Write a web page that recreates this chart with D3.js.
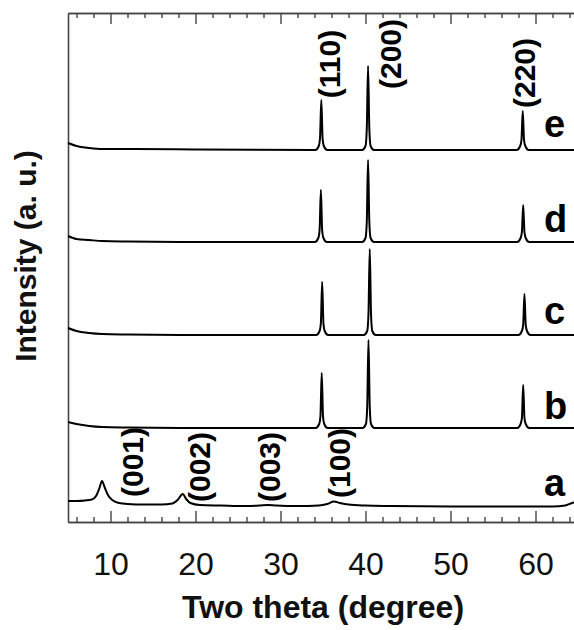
<!DOCTYPE html>
<html>
<head>
<meta charset="utf-8">
<script src="https://cdn.jsdelivr.net/npm/d3@7"></script>
<style>
  body { margin: 0; background: #fff; }
  svg { display: block; font-family: Arial, "Liberation Sans", sans-serif; }
</style>
</head>
<body>
<svg></svg>
<script>
// XRD patterns, [2theta, intensity (a.u., offset already applied)]
var seriesA = [[5,21],[6,21],[7,21.5],[7.8,22.5],[8.3,26],[8.7,34],[9.0,41],[9.3,35],[9.7,27],[10.2,22],[11,19],[12,18],[14,17.5],[16,17.5],[17.3,18.5],[17.9,22],[18.5,28],[18.9,23],[19.4,19],[20.5,17],[23,16.5],[26,16],[27.5,16.5],[28.5,17],[29.5,16.5],[32,16],[34.5,16.5],[35.5,18],[36.3,20.5],[37,19],[38,17.5],[40,16.5],[43,16],[50,15.5],[58,15.5],[62,15.5],[63.5,16.5],[64.3,19],[65,20]];
var seriesB = [[5,100],[6,98],[7.5,96],[9,95],[12,94.5],[20,94],[34.15,94],[34.55,98],[34.7,106],[34.85,149],[35.0,106],[35.15,98],[35.55,94],[39.65,94],[40.05,98],[40.2,115],[40.35,182],[40.5,115],[40.65,98],[41.05,94],[57.85,94],[58.25,98],[58.4,104],[58.55,137],[58.7,104],[58.85,98],[59.25,94],[65,94]];
var seriesC = [[5,194],[6,191],[7.5,189],[9,188],[12,187.5],[20,187],[34.2,187],[34.6,191],[34.75,199],[34.9,240],[35.05,199],[35.2,191],[35.6,187],[39.8,187],[40.2,191],[40.35,208],[40.5,273],[40.65,208],[40.8,191],[41.2,187],[58.0,187],[58.4,191],[58.55,197],[58.7,228],[58.85,197],[59.0,191],[59.4,187],[65,187]];
var seriesD = [[5,286],[6,283],[7.5,282],[9,281],[12,280.5],[20,280],[34.05,280],[34.45,284],[34.6,292],[34.75,332],[34.9,292],[35.05,284],[35.45,280],[39.6,280],[40.0,284],[40.15,300],[40.3,362],[40.45,300],[40.6,284],[41.0,280],[57.85,280],[58.25,284],[58.4,290],[58.55,317],[58.7,290],[58.85,284],[59.25,280],[65,280]];
var seriesE = [[5,379],[6,376],[7.5,374],[9,373],[12,373],[20,372.5],[34.1,372],[34.5,376],[34.65,384],[34.8,422],[34.95,384],[35.1,376],[35.5,372],[39.6,372],[40.0,376],[40.15,393],[40.3,456],[40.45,393],[40.6,376],[41.0,372],[57.8,372],[58.2,376],[58.35,382],[58.5,411],[58.65,382],[58.8,376],[59.2,372],[65,372]];

var sampleNames = ["a", "b", "c", "d", "e"];
var sampleLabelY = [26, 103, 198, 290, 385];
var sampleLabelX = 61.0;

// (hkl) annotations: label, 2theta, intensity
var hklLabels = ["(001)", "(002)", "(003)", "(100)", "(110)", "(200)", "(220)"];
var hklX = [13.8, 21.7, 29.9, 38.2, 37.0, 44.2, 59.9];
var hklY = [60, 55, 55, 59, 458, 468, 449];

var majorTicks = [10, 20, 30, 40, 50, 60];
var minorTicks = d3.range(6, 65, 2).filter(function(v) { return v % 10 !== 0; });

(function() {
var svg = d3.select("svg"),
    width = 574,
    height = 630,
    plotLeft = 68, plotRight = 578, plotTop = 13, plotBottom = 522;

svg.attr("width", width).attr("height", height);

var x = d3.scaleLinear().domain([5, 65]).range([plotLeft, plotRight]),
    y = d3.scaleLinear().domain([0, 509]).range([plotBottom, plotTop]);

var frame = svg.append("g").attr("class", "frame");

// bottom axis: minor then major ticks, pointing inward
frame.append("g")
    .attr("transform", "translate(0," + plotBottom + ")")
    .call(d3.axisBottom(x).tickValues(minorTicks).tickSizeInner(-5).tickSizeOuter(0).tickFormat(""));
frame.append("g")
    .attr("class", "xaxis")
    .attr("transform", "translate(0," + plotBottom + ")")
    .call(d3.axisBottom(x).tickValues(majorTicks).tickSizeInner(-11).tickSizeOuter(0).tickPadding(30).tickFormat(d3.format("d")));

// top axis
frame.append("g")
    .attr("transform", "translate(0," + plotTop + ")")
    .call(d3.axisTop(x).tickValues(minorTicks).tickSizeInner(-5).tickSizeOuter(0).tickFormat(""));
frame.append("g")
    .attr("transform", "translate(0," + plotTop + ")")
    .call(d3.axisTop(x).tickValues(majorTicks).tickSizeInner(-11).tickSizeOuter(0).tickFormat(""));

// left axis, just the line
frame.append("g")
    .attr("transform", "translate(" + plotLeft + ",0)")
    .call(d3.axisLeft(y).tickValues([]).tickSizeOuter(0));

frame.selectAll("path.domain").attr("stroke", "#444").attr("stroke-width", 1.6);
frame.selectAll(".tick line").attr("stroke", "#444").attr("stroke-width", 1.4);
frame.selectAll(".xaxis text")
    .attr("font-size", 32)
    .attr("fill", "#111")
    .attr("font-family", "Arial, 'Liberation Sans', sans-serif");

// curves
var line = d3.line()
    .x(function(d) { return x(d[0]); })
    .y(function(d) { return y(d[1]); })
    .curve(d3.curveMonotoneX);

svg.append("g")
  .selectAll("path")
  .data([seriesA, seriesB, seriesC, seriesD, seriesE])
  .enter().append("path")
    .attr("fill", "none")
    .attr("stroke", "#000")
    .attr("stroke-width", 2)
    .attr("stroke-linejoin", "round")
    .attr("d", line);

// sample letters
svg.append("g")
  .selectAll("text")
  .data(sampleNames)
  .enter().append("text")
    .attr("x", x(sampleLabelX))
    .attr("y", function(d, i) { return y(sampleLabelY[i]); })
    .attr("font-size", 38)
    .attr("font-weight", "bold")
    .attr("fill", "#000")
    .text(function(d) { return d; });

// hkl labels, rotated
svg.append("g")
  .selectAll("text")
  .data(hklLabels)
  .enter().append("text")
    .attr("transform", function(d, i) {
      return "translate(" + x(hklX[i]) + "," + y(hklY[i]) + ") rotate(-90)";
    })
    .attr("text-anchor", "middle")
    .attr("font-size", 30)
    .attr("font-weight", "bold")
    .attr("fill", "#000")
    .text(function(d) { return d; });

// axis titles
svg.append("text")
    .attr("x", (plotLeft + plotRight) / 2)
    .attr("y", 618)
    .attr("text-anchor", "middle")
    .attr("font-size", 32)
    .attr("font-weight", "bold")
    .attr("fill", "#111")
    .text("Two theta (degree)");

svg.append("text")
    .attr("transform", "translate(36,256) rotate(-90)")
    .attr("text-anchor", "middle")
    .attr("font-size", 30)
    .attr("font-weight", "bold")
    .attr("fill", "#111")
    .text("Intensity (a. u.)");
})();
</script>
</body>
</html>
